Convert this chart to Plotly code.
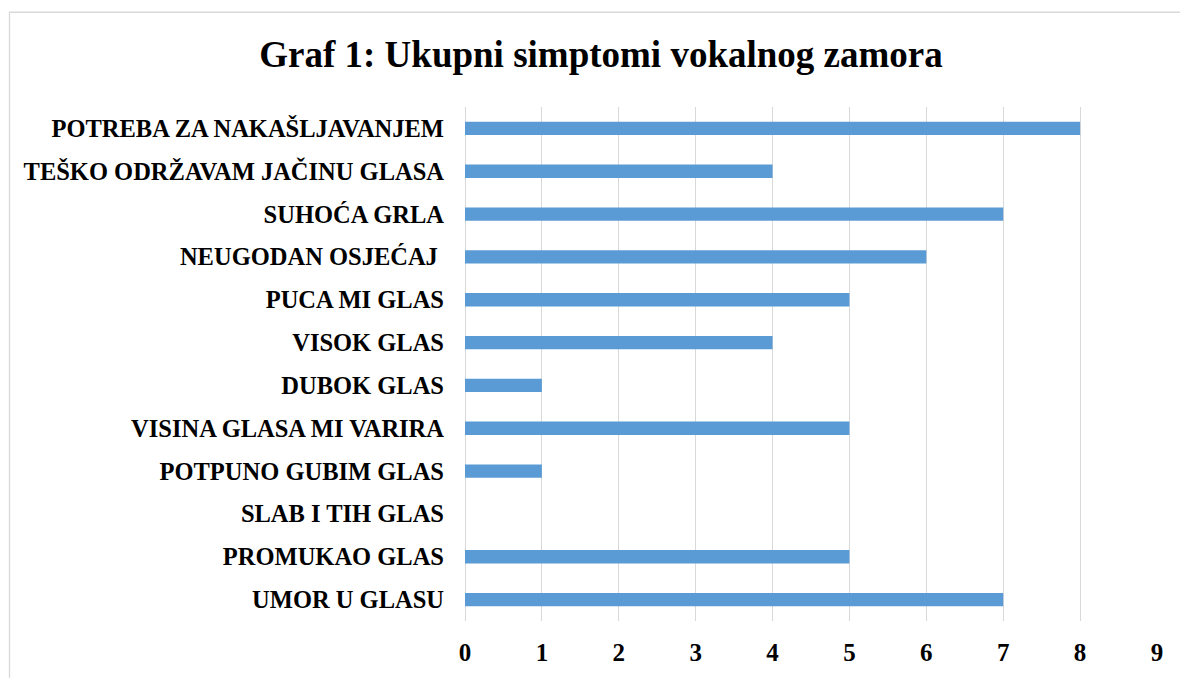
import plotly.graph_objects as go

categories = [
    "UMOR U GLASU",
    "PROMUKAO GLAS",
    "SLAB I TIH GLAS",
    "POTPUNO GUBIM GLAS",
    "VISINA GLASA MI VARIRA",
    "DUBOK GLAS",
    "VISOK GLAS",
    "PUCA MI GLAS",
    "NEUGODAN OSJEĆAJ\u00a0",
    "SUHOĆA GRLA",
    "TEŠKO ODRŽAVAM JAČINU GLASA",
    "POTREBA ZA NAKAŠLJAVANJEM",
]
values = [7, 5, 0, 1, 5, 1, 4, 5, 6, 7, 4, 8]
x_ticks = [0, 1, 2, 3, 4, 5, 6, 7, 8, 9]

W, H = 1180, 678
ML, MR, MT, MB = 465, 23, 107, 53
FONT = "Liberation Serif, Times New Roman, serif"

fig = go.Figure(
    go.Bar(
        x=values,
        y=categories,
        orientation="h",
        marker=dict(color="#5B9BD5", line=dict(width=0)),
        width=0.31,
    )
)

pw = W - ML - MR
ph = H - MT - MB


def px2paper_x(px):
    return (px - ML) / pw


def py2paper_y(py):
    return (H - MB - py) / ph


fig.add_shape(
    type="rect",
    xref="paper", yref="paper",
    x0=px2paper_x(9.5), x1=px2paper_x(W + 20),
    y0=py2paper_y(H + 20), y1=py2paper_y(11.5),
    line=dict(color="#d9d9d9", width=1.3),
    fillcolor="rgba(0,0,0,0)",
    layer="below",
)

fig.update_layout(
    width=W, height=H,
    margin=dict(l=ML, r=MR, t=MT, b=MB),
    paper_bgcolor="white",
    plot_bgcolor="white",
    showlegend=False,
    title=dict(
        text="<b>Graf 1: Ukupni simptomi vokalnog zamora</b>",
        x=601 / W,
        xanchor="center",
        y=1 - 54 / H,
        yanchor="middle",
        font=dict(family=FONT, size=37, color="black"),
    ),
    font=dict(family=FONT, color="black"),
)

fig.update_xaxes(
    range=[0, 9],
    tickvals=x_ticks,
    ticktext=[f"<b>{t}</b>" for t in x_ticks],
    showgrid=True,
    gridcolor="#d9d9d9",
    gridwidth=1.3,
    zeroline=True,
    zerolinecolor="#d9d9d9",
    zerolinewidth=1.3,
    showline=False,
    ticks="",
    ticklabelstandoff=14,
    tickfont=dict(family=FONT, size=25, color="black"),
    fixedrange=True,
)

fig.update_yaxes(
    categoryorder="array",
    categoryarray=categories,
    tickvals=categories,
    ticktext=[f"<b>{c}</b>" for c in categories],
    showgrid=False,
    showline=False,
    ticks="",
    ticklabelstandoff=20,
    tickfont=dict(family=FONT, size=24.5, color="black"),
    range=[-0.5, len(categories) - 0.5],
    fixedrange=True,
)

fig.write_html(
    "out.html",
    config={"displayModeBar": False},
    post_script="document.body.style.margin='0';document.body.style.overflow='hidden';",
)
